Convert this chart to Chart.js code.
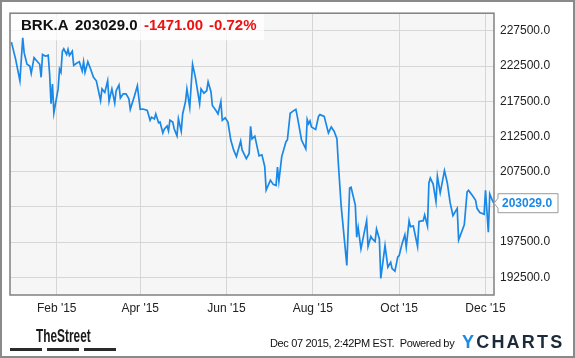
<!DOCTYPE html>
<html>
<head>
<meta charset="utf-8">
<script src="https://cdn.jsdelivr.net/npm/chart.js@4.4.0/dist/chart.umd.min.js"></script>
<style>
  html, body { margin: 0; padding: 0; background: #fff; }
  #wrap { position: relative; width: 575px; height: 358px; overflow: hidden; font-family: "Liberation Sans", Arial, sans-serif; }
  #c { position: absolute; left: 0; top: 0; }
  .frame { position: absolute; left: 0; top: 0; width: 575px; height: 358px; box-sizing: border-box; border: 2px solid #8a8a8a; pointer-events: none; }
  .hd { position: absolute; top: 16.5px; font-size: 15px; line-height: 15px; font-weight: bold; white-space: nowrap; color: #111; }
  .hd.neg { color: #ee1111; }
  .street { position: absolute; left: 36px; top: 326.5px; font-size: 18px; line-height: 18px; font-weight: bold; color: #1a1a1a; transform: scaleX(0.66); transform-origin: left top; white-space: nowrap; }
  .bar { position: absolute; top: 348px; height: 3px; background: #2a2a2a; }
  .stamp { position: absolute; left: 270px; top: 337.7px; font-size: 11px; line-height: 11px; letter-spacing: -0.35px; color: #111; white-space: nowrap; }
  .yc { position: absolute; left: 462px; top: 332.8px; font-size: 18px; line-height: 18px; font-weight: bold; letter-spacing: 2.2px; color: #1c2b39; white-space: nowrap; }
  .yc span { color: #1a8ae6; }
</style>
</head>
<body>
<div id="wrap">
  <canvas id="c" width="575" height="358"></canvas>
  <div class="hd" style="left:21px">BRK.A</div>
  <div class="hd" style="left:75px">203029.0</div>
  <div class="hd neg" style="left:144px">-1471.00</div>
  <div class="hd neg" style="left:209px">-0.72%</div>
  <div class="street">TheStreet</div>
  <div class="bar" style="left:10px;width:32px"></div>
  <div class="bar" style="left:47px;width:32px"></div>
  <div class="bar" style="left:84px;width:32px"></div>
  <div class="stamp">Dec 07 2015, 2:42PM EST.&nbsp; Powered by</div>
  <div class="yc"><span>Y</span>CHARTS</div>
  <div class="frame"></div>
</div>
<script>
// day number counted from Jan 1 2015 (Dec 30 2014 = -2)
const days = [
  -1, 2, 5, 7, 8, 10, 12, 13, 15, 19,
  20, 21, 23, 25, 26, 27, 28, 29, 32, 33,
  34, 35, 36, 38, 39, 40, 42, 43, 45, 47,
  49, 50, 51, 53, 55, 57, 59, 62, 63, 65,
  67, 68, 70, 72, 73, 75, 76, 78, 80, 82,
  83, 86, 88, 90, 92, 95, 97, 98, 100, 101,
  103, 104, 106, 107, 109, 110, 111, 113, 114, 116,
  117, 119, 120, 122, 123, 125, 127, 129, 132, 133,
  135, 137, 138, 140, 141, 144, 145, 147, 148, 150,
  152, 154, 156, 158, 161, 162, 165, 167, 168, 169,
  171, 174, 176, 178, 179, 182, 184, 186, 187, 188,
  190, 192, 193, 194, 196, 198, 200, 201, 204, 207,
  208, 209, 210, 211, 214, 216, 217, 220, 223, 225,
  227, 229, 230, 232, 236, 238, 239, 242, 243, 244,
  246, 250, 251, 253, 254, 256, 257, 259, 260, 263,
  265, 267, 268, 270, 272, 273, 275, 277, 278, 280,
  281, 283, 286, 287, 290, 291, 293, 294, 295, 297,
  299, 300, 302, 305, 307, 309, 311, 314, 315, 319,
  321, 322, 325, 327, 328, 330, 333, 334, 336, 337,
  339, 340
];
const prices = [
  225900, 223450, 220400, 226500, 224400, 222750, 222500, 221450, 223700, 222750,
  220900, 224150, 223900, 224050, 221350, 217150, 219950, 215850, 219250, 222050,
  221600, 224600, 224950, 224150, 224850, 224000, 224600, 222600, 222900, 223100,
  221800, 223100, 221600, 223100, 222050, 220900, 220400, 217600, 219250, 218750,
  220400, 217500, 219250, 217250, 219000, 219800, 217950, 218550, 218550, 217850,
  216350, 218300, 219700, 216350, 216400, 216200, 214800, 215250, 215000, 215700,
  214450, 214550, 213000, 213550, 214000, 213300, 214800, 214550, 213600, 212600,
  215000, 213250, 215700, 217450, 219250, 216650, 222750, 220900, 217150, 219250,
  218650, 219000, 220250, 218850, 216900, 216050, 215700, 217450, 214800, 215150,
  214550, 212000, 210600, 209650, 211850, 210600, 209350, 210100, 213950, 212150,
  212550, 209750, 209900, 208250, 204900, 206300, 205700, 205550, 208150, 206150,
  209650, 211050, 211750, 212000, 215800, 216100, 216350, 215350, 212000, 210750,
  214900, 214300, 214700, 213850, 213500, 215350, 215600, 215350, 213000, 213850,
  213250, 212200, 208700, 202650, 194200, 205200, 205300, 202750, 198200, 199600,
  196550, 200550, 196900, 198300, 197950, 197600, 199350, 197950, 192350, 197000,
  193950, 194650, 193750, 193400, 195400, 195600, 197250, 198550, 196800, 200550,
  199700, 199800, 196900, 200450, 200550, 201350, 199800, 205900, 206600, 205750,
  203250, 206850, 204500, 207650, 205900, 203100, 201250, 202300, 197800, 199950,
  204650, 204850, 204050, 203450, 202300, 201700, 201450, 204850, 198900, 204350,
  203350, 203029
];
const tickDays = [31, 90, 151, 212, 273, 334];
const tickLabels = ["Feb '15", "Apr '15", "Jun '15", "Aug '15", "Oct '15", "Dec '15"];
const priceTicks = [192500, 197500, 202500, 207500, 212500, 217500, 222500, 227500];

const FONT = 'Liberation Sans, Arial, sans-serif';
const LINE_BLUE = '#1a88e6';

const chartDeco = {
  id: 'chartDeco',
  beforeDraw(chart) {
    const { ctx, chartArea: a } = chart;
    ctx.save();
    ctx.fillStyle = '#f6f6f6';
    ctx.fillRect(a.left, a.top, a.right - a.left, a.bottom - a.top);
    ctx.restore();
  },
  beforeDatasetsDraw(chart) {
    // quote box behind the header text
    const { ctx, chartArea: a } = chart;
    ctx.save();
    ctx.fillStyle = 'rgba(255,255,255,0.75)';
    ctx.fillRect(a.left + 1, a.top + 1, 253, 26);
    ctx.restore();
  },
  afterDraw(chart) {
    const { ctx, chartArea: a } = chart;
    ctx.save();
    ctx.strokeStyle = '#808080';
    ctx.lineWidth = 1.5;
    ctx.strokeRect(a.left, a.top, a.right - a.left, a.bottom - a.top);

    // last value tag
    const last = prices[prices.length - 1];
    const y = chart.scales.y.getPixelForValue(last);
    const x0 = a.right + 4, x1 = x0 + 60, t = y - 9.5, b = y + 9.5;
    ctx.beginPath();
    ctx.moveTo(x0, t);
    ctx.lineTo(x1, t);
    ctx.lineTo(x1, b);
    ctx.lineTo(x0, b);
    ctx.lineTo(x0, y + 5);
    ctx.lineTo(a.right, y);
    ctx.lineTo(x0, y - 5);
    ctx.closePath();
    ctx.fillStyle = '#fff';
    ctx.fill();
    ctx.strokeStyle = '#9a9a9a';
    ctx.lineWidth = 1;
    ctx.stroke();
    ctx.fillStyle = LINE_BLUE;
    ctx.font = 'bold 12px ' + FONT;
    ctx.textAlign = 'left';
    ctx.textBaseline = 'middle';
    ctx.fillText(last.toFixed(1), x0 + 4, y + 0.5);
    ctx.restore();
  }
};

new Chart(document.getElementById('c'), {
  type: 'line',
  data: {
    datasets: [{
      data: days.map((d, i) => ({ x: d, y: prices[i] })),
      borderColor: LINE_BLUE,
      borderWidth: 1.7,
      pointRadius: 0,
      tension: 0,
      fill: false
    }]
  },
  options: {
    responsive: false,
    animation: false,
    layout: { padding: { left: 10, top: 10, right: 0, bottom: 0 } },
    plugins: { legend: { display: false }, tooltip: { enabled: false } },
    scales: {
      x: {
        type: 'linear',
        min: -2,
        max: 340,
        afterBuildTicks: s => { s.ticks = tickDays.map(v => ({ value: v })); },
        afterFit: s => { s.height = 63; },
        grid: { color: '#d6d6d6', drawTicks: false },
        border: { display: false },
        ticks: {
          autoSkip: false, maxRotation: 0, padding: 6, color: '#222',
          font: { family: FONT, size: 12 },
          callback: v => tickLabels[tickDays.indexOf(v)]
        }
      },
      y: {
        position: 'right',
        min: 190000,
        max: 230000,
        afterBuildTicks: s => { s.ticks = priceTicks.map(v => ({ value: v })); },
        afterFit: s => { s.width = 81; },
        grid: { color: '#d6d6d6', drawTicks: false },
        border: { display: false },
        ticks: {
          padding: 6, color: '#222', crossAlign: 'near',
          font: { family: FONT, size: 12 },
          callback: v => v.toFixed(1)
        }
      }
    }
  },
  plugins: [chartDeco]
});
</script>
</body>
</html>
